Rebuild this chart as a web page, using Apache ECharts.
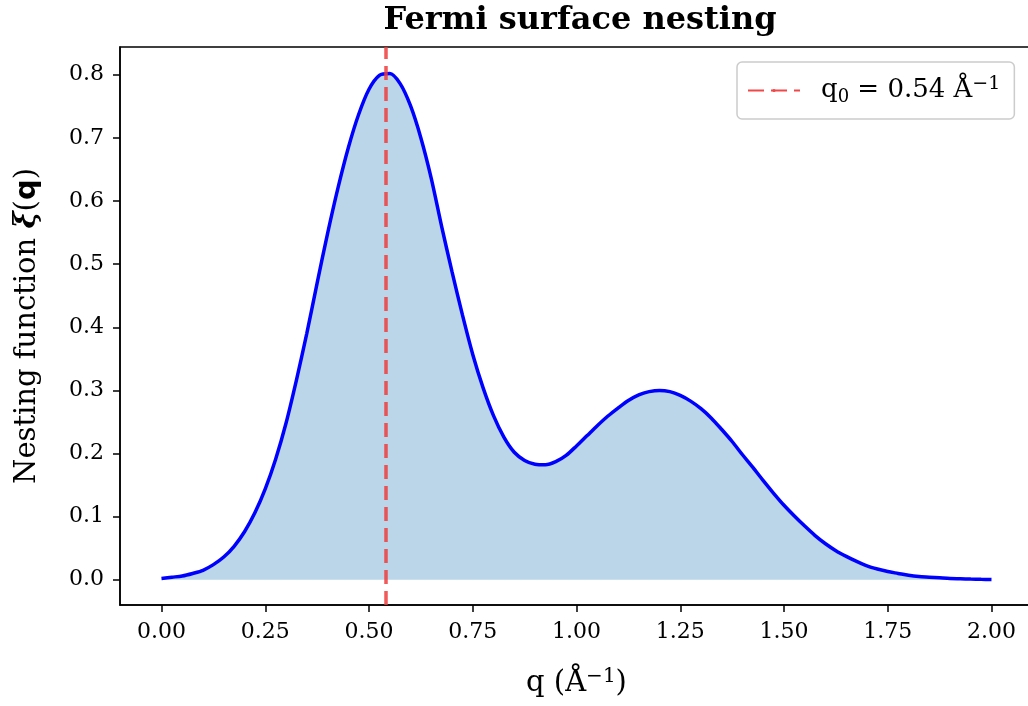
<!DOCTYPE html>
<html>
<head>
<meta charset="utf-8">
<title>Fermi surface nesting</title>
<script src="https://cdn.jsdelivr.net/npm/echarts@6/dist/echarts.min.js"></script>
<style>
  html, body { margin: 0; padding: 0; background: #fff; }
  #chart { width: 1028px; height: 706px; }
</style>
</head>
<body>
<div id="chart"></div>
<script>
// values (step 0.025)
const qValues = [
  0.000, 0.025, 0.050, 0.075, 0.100, 0.125, 0.150, 0.175, 0.200, 0.225,
  0.250, 0.275, 0.300, 0.325, 0.350, 0.375, 0.400, 0.425, 0.450, 0.475,
  0.500, 0.525, 0.550, 0.575, 0.600, 0.625, 0.650, 0.675, 0.700, 0.725,
  0.750, 0.775, 0.800, 0.825, 0.850, 0.875, 0.900, 0.925, 0.950, 0.975,
  1.000, 1.025, 1.050, 1.075, 1.100, 1.125, 1.150, 1.175, 1.200, 1.225,
  1.250, 1.275, 1.300, 1.325, 1.350, 1.375, 1.400, 1.425, 1.450, 1.475,
  1.500, 1.525, 1.550, 1.575, 1.600, 1.625, 1.650, 1.675, 1.700, 1.725,
  1.750, 1.775, 1.800, 1.825, 1.850, 1.875, 1.900, 1.925, 1.950, 1.975, 2.000
];
const xiValues = [
  0.002, 0.004, 0.006, 0.010, 0.015, 0.024, 0.036, 0.053, 0.076, 0.106,
  0.144, 0.191, 0.248, 0.316, 0.390, 0.470, 0.548, 0.620, 0.684, 0.737,
  0.777, 0.799, 0.802, 0.786, 0.751, 0.700, 0.636, 0.560, 0.488, 0.420,
  0.357, 0.304, 0.260, 0.226, 0.202, 0.189, 0.183, 0.182, 0.187, 0.197,
  0.212, 0.228, 0.244, 0.259, 0.272, 0.284, 0.293, 0.298, 0.300, 0.298,
  0.292, 0.283, 0.271, 0.256, 0.238, 0.219, 0.198, 0.178, 0.157, 0.137,
  0.118, 0.101, 0.085, 0.070, 0.057, 0.046, 0.037, 0.029, 0.022, 0.017,
  0.013, 0.010, 0.007, 0.005, 0.004, 0.003, 0.002, 0.0015, 0.001, 0.0006, 0.0004
];
const q0 = 0.54;
const xTicks = [0, 0.25, 0.5, 0.75, 1.0, 1.25, 1.5, 1.75, 2.0];
const yTicks = [0, 0.1, 0.2, 0.3, 0.4, 0.5, 0.6, 0.7, 0.8];

const font = 'DejaVu Serif';
const curve = qValues.map((q, i) => [q, xiValues[i]]);

const chart = echarts.init(document.getElementById('chart'), null, { renderer: 'canvas' });

chart.setOption({
  animation: false,
  backgroundColor: '#fff',
  title: {
    text: 'Fermi surface nesting',
    left: 575,
    top: 0,
    textAlign: 'center',
    textStyle: { fontFamily: font, fontWeight: 'bold', fontSize: 32, color: '#000' }
  },
  legend: {
    show: true,
    data: ['q0'],
    left: 737,
    top: 62,
    padding: [13, 14, 13, 10],
    itemWidth: 52,
    itemHeight: 4,
    itemGap: 10,
    backgroundColor: '#fff',
    borderColor: '#cccccc',
    borderWidth: 1.5,
    borderRadius: 5,
    formatter: () => '{t|q}{sub|0}{t| = 0.54 Å}{sup|−1}',
    textStyle: {
      fontFamily: font,
      color: '#000',
      padding: [0, 0, 0, 16],
      rich: {
        t: { fontFamily: font, fontSize: 26, color: '#000' },
        sub: { fontFamily: font, fontSize: 18, color: '#000', verticalAlign: 'bottom', padding: [10, 0, 0, 0] },
        sup: { fontFamily: font, fontSize: 19, color: '#000', verticalAlign: 'top', padding: [0, 0, 12, 0] }
      }
    }
  },
  grid: {
    left: 120,
    top: 47,
    width: 913,
    height: 558,
    outerBoundsMode: 'none',
    show: true,
    borderColor: '#000',
    borderWidth: 1.5,
    backgroundColor: 'transparent'
  },
  xAxis: {
    type: 'value',
    min: -0.1,
    max: 2.1,
    name: 'q (Å{sup|−1})',
    nameLocation: 'middle',
    nameGap: 62,
    nameTextStyle: {
      fontFamily: font, fontSize: 29, color: '#000',
      rich: { sup: { fontFamily: font, fontSize: 20, color: '#000', verticalAlign: 'top', padding: [0, 0, 12, 0] } }
    },
    splitLine: { show: false },
    axisLine: { show: true, onZero: false, lineStyle: { color: '#000', width: 1.5 } },
    axisTick: { show: true, length: 7, lineStyle: { color: '#000', width: 1.5 }, customValues: xTicks },
    axisLabel: {
      fontFamily: font, fontSize: 22, color: '#000', margin: 16,
      customValues: xTicks,
      formatter: v => v.toFixed(2)
    }
  },
  yAxis: {
    type: 'value',
    min: -0.04,
    max: 0.844,
    name: 'Nesting function {xi|ξ}({b|q})',
    nameLocation: 'middle',
    nameGap: 78,
    nameTextStyle: {
      fontFamily: font, fontSize: 29, color: '#000',
      rich: {
        xi: { fontFamily: font, fontSize: 29, fontStyle: 'italic', fontWeight: 'bold', color: '#000' },
        b: { fontFamily: 'DejaVu Sans', fontSize: 29, fontWeight: 'bold', color: '#000' }
      }
    },
    splitLine: { show: false },
    axisLine: { show: true, onZero: false, lineStyle: { color: '#000', width: 1.5 } },
    axisTick: { show: true, length: 7, lineStyle: { color: '#000', width: 1.5 }, customValues: yTicks },
    axisLabel: {
      fontFamily: font, fontSize: 22, color: '#000', margin: 16,
      customValues: yTicks,
      formatter: v => v.toFixed(1)
    }
  },
  series: [
    {
      name: 'xi',
      type: 'line',
      data: curve,
      smooth: 0.3,
      showSymbol: false,
      lineStyle: { color: '#0000ff', width: 3.5 },
      itemStyle: { color: '#0000ff' },
      areaStyle: { color: '#1f77b4', opacity: 0.3, origin: 0 },
      z: 3
    },
    {
      name: 'q0',
      type: 'line',
      data: [],
      symbol: 'none',
      itemStyle: { color: '#f04848' },
      lineStyle: { color: '#f04848', width: 3.5, type: [16, 7] },
      markLine: {
        silent: true,
        symbol: ['none', 'none'],
        label: { show: false },
        lineStyle: { color: '#f03c3c', opacity: 0.85, width: 3.5, type: [14, 7] },
        data: [{ xAxis: q0 }]
      },
      z: 4
    }
  ]
});
</script>
</body>
</html>
